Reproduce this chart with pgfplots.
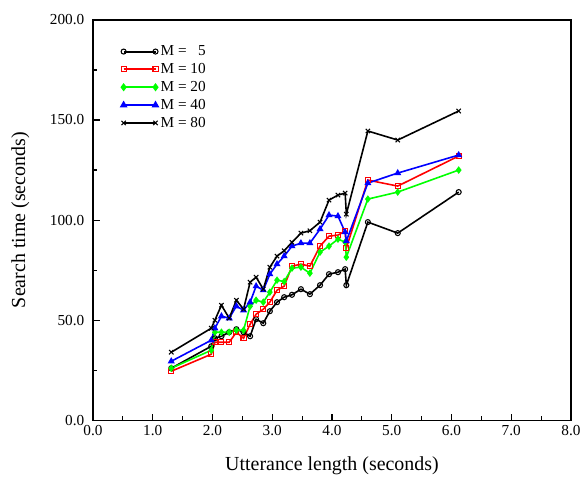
\documentclass[border=0pt]{standalone}
\usepackage{fontspec}
\setmainfont{Liberation Serif}
\usepackage{pgfplots}
\usepackage{pgfplotstable}
\pgfplotsset{compat=1.18}

% search time per utterance length, one column per beam size M
\pgfplotstableread{
x     m5    m10   m20   m40   m80
1.31  26.0  24.5  26.0  29.5  34.0
1.98  37.0  33.0  35.0  40.0  46.0
2.04  41.0  39.0  44.0  46.0  50.0
2.15  42.0  39.0  44.0  52.0  57.5
2.28  44.0  39.0  44.0  51.0  51.0
2.40  45.5  44.0  45.0  57.0  60.0
2.52  44.0  41.0  45.0  55.0  55.5
2.63  42.0  48.0  57.0  59.0  69.0
2.73  50.5  53.0  60.0  67.0  71.5
2.85  48.5  55.5  59.0  65.0  65.5
2.96  54.5  59.0  64.0  73.0  76.5
3.08  59.0  65.0  70.0  78.0  82.0
3.20  61.5  67.0  69.3  82.0  84.7
3.33  62.7  77.0  76.0  87.0  88.9
3.48  65.5  78.0  76.5  88.5  93.5
3.63  63.0  77.0  73.5  88.5  94.7
3.80  67.5  87.0  84.0  95.5  99.0
3.95  73.0  92.0  87.0  102.5 110.0
4.10  74.0  92.5  90.5  102.0 112.5
4.22  75.5  94.5  89.0  94.0  113.5
4.24  67.5  86.0  81.5  89.5  103.0
4.60  99.0  120.0 110.5 118.5 144.5
5.10  93.5  117.0 114.0 123.5 140.0
6.12  114.0 132.0 125.0 132.5 154.5
}\datatable

\begin{document}
\begin{tikzpicture}
\begin{axis}[
    name=ax,
    width=360pt, height=301.5pt, scale only axis,
    xmin=0, xmax=8, ymin=0, ymax=200,
    xtick={0,1,...,8}, minor x tick num=1,
    ytick={0,50,...,200}, minor y tick num=1,
    tick pos=left, tick align=inside,
    major tick length=5pt, minor tick length=3pt,
    axis line style={line width=1.2pt},
    tick style={black, line width=0.9pt},
    /pgf/number format/.cd, fixed, fixed zerofill, precision=1, assume math mode=true,
    /pgfplots/.cd,
    tick label style={font=\fontsize{11.5}{13}\selectfont},
    yticklabel style={xshift=-3pt},
    xlabel={Utterance length (seconds)},
    ylabel={Search time (seconds)},
    label style={font=\fontsize{15}{18}\selectfont},
    xlabel style={at={(axis description cs:0.5,-0.113)}, anchor=center},
    ylabel style={at={(axis description cs:-0.152,0.5)}, anchor=center},
    legend style={at={(axis description cs:0.05,0.95)}, anchor=north west,
        draw=none, fill=none, font=\fontsize{11.5}{13}\selectfont,
        row sep=0.3pt,
        /tikz/every even column/.append style={column sep=5pt}},
    legend cell align=left,
    legend image code/.code={\draw[#1, line width=1.5pt] plot coordinates {(0pt,0pt) (24pt,0pt)};},
    every axis plot/.append style={line width=1.2pt, mark size=1.9pt},
]
\addplot[black, mark=o, mark options={solid, line width=0.8pt}] table[x=x, y=m5] {\datatable};
\addlegendentry{M = \phantom{1}5}
\addplot[red, mark=square, mark options={solid, line width=0.8pt}] table[x=x, y=m10] {\datatable};
\addlegendentry{M = 10}
\addplot[green, mark=diamond*, mark options={solid}] table[x=x, y=m20] {\datatable};
\addlegendentry{M = 20}
\addplot[blue, mark=triangle*, mark options={solid}] table[x=x, y=m40] {\datatable};
\addlegendentry{M = 40}
\addplot[black, mark=x, mark options={solid, line width=0.8pt}, mark size=2.3pt] table[x=x, y=m80] {\datatable};
\addlegendentry{M = 80}
\end{axis}
% page margins around the axis box, as in the reference
\path ([xshift=-70pt,yshift=15pt]ax.north west) ([xshift=9pt,yshift=-45pt]ax.south east);
\end{tikzpicture}
\end{document}
